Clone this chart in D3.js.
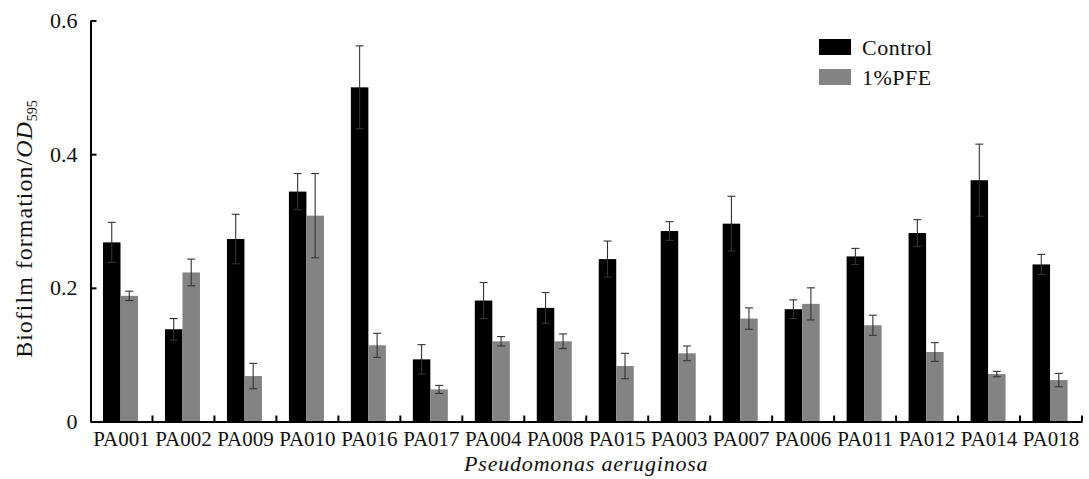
<!DOCTYPE html>
<html><head><meta charset="utf-8">
<script src="https://cdn.jsdelivr.net/npm/d3@7"></script>
<style>body{margin:0;background:#fff}svg{display:block}</style>
</head><body>
<svg id="c" width="1089" height="479"></svg>
<script>
const categories = ["PA001","PA002","PA009","PA010","PA016","PA017","PA004","PA008","PA015","PA003","PA007","PA006","PA011","PA012","PA014","PA018"];
const seriesNames = ["Control","1%PFE"];
const controlValues = [0.268,0.138,0.273,0.344,0.500,0.093,0.181,0.170,0.243,0.285,0.296,0.168,0.247,0.282,0.361,0.235];
const controlErrors = [0.030,0.016,0.037,0.027,0.062,0.022,0.027,0.023,0.027,0.014,0.041,0.014,0.012,0.020,0.054,0.015];
const pfeValues = [0.188,0.223,0.068,0.308,0.114,0.048,0.120,0.120,0.083,0.102,0.154,0.176,0.144,0.104,0.071,0.062];
const pfeErrors = [0.007,0.020,0.019,0.063,0.018,0.006,0.007,0.011,0.019,0.011,0.016,0.024,0.015,0.014,0.004,0.010];
const yTicks = [0,0.2,0.4,0.6];
const colors = ["#000000","#838383"];

const FONT = "Liberation Serif";
const svg = d3.select("#c");
const L = 90.5, R = 1082, T = 20.5, B = 421.5;
const x0 = d3.scaleBand().domain(categories).range([L, R]).padding(0);
const x1 = d3.scaleBand().domain(seriesNames).range([12.5, 47.5]).padding(0);
const y = d3.scaleLinear().domain([0,0.6]).range([B, T]);

const data = categories.map((c,i)=>({c, vals:[
  {s:seriesNames[0], v:controlValues[i], e:controlErrors[i]},
  {s:seriesNames[1], v:pfeValues[i], e:pfeErrors[i]}]}));

const g = svg.append("g");
const grp = g.selectAll("g.grp").data(data).join("g").attr("transform",d=>`translate(${x0(d.c)},0)`);
grp.selectAll("rect").data(d=>d.vals).join("rect")
  .attr("x",d=>x1(d.s)).attr("width",x1.bandwidth())
  .attr("y",d=>y(d.v)).attr("height",d=>y(0)-y(d.v))
  .attr("fill",(d,i)=>colors[i]);
const eb = grp.selectAll("g.eb").data(d=>d.vals).join("g").attr("class","eb");
const cx = d=>x1(d.s)+x1.bandwidth()/2;
eb.append("line").attr("x1",cx).attr("x2",cx).attr("y1",d=>y(d.v-d.e)).attr("y2",d=>y(d.v+d.e))
  .attr("stroke","#333").attr("stroke-width",1.1);
eb.append("line").attr("x1",d=>cx(d)-4).attr("x2",d=>cx(d)+4).attr("y1",d=>y(d.v+d.e)).attr("y2",d=>y(d.v+d.e))
  .attr("stroke","#333").attr("stroke-width",1.1);
eb.append("line").attr("x1",d=>cx(d)-4).attr("x2",d=>cx(d)+4).attr("y1",d=>y(d.v-d.e)).attr("y2",d=>y(d.v-d.e))
  .attr("stroke","#333").attr("stroke-width",1.1);

// y axis
const yAxis = d3.axisLeft(y).tickValues(yTicks).tickFormat(d=>d===0?"0":d3.format(".1f")(d)).tickSizeInner(-6).tickSizeOuter(0).tickPadding(13);
const ya = svg.append("g").attr("transform",`translate(${L},0)`).call(yAxis);
ya.select(".domain").attr("stroke","#000").attr("stroke-width",2);
ya.selectAll(".tick line").attr("stroke","#000").attr("stroke-width",2);
ya.selectAll(".tick text").attr("fill","#111").style("font-family",FONT).style("font-size","22px");

// x axis
const xAxis = d3.axisBottom(x0).tickSize(0).tickPadding(10);
const xa = svg.append("g").attr("transform",`translate(0,${B})`).call(xAxis);
xa.select(".domain").attr("stroke","#000").attr("stroke-width",2);
xa.selectAll(".tick text").attr("fill","#111").style("font-family",FONT).style("font-size","21px");
xa.selectAll("line.bt").data(categories).join("line").attr("class","bt")
  .attr("x1",d=>x0(d)+x0.bandwidth()).attr("x2",d=>x0(d)+x0.bandwidth())
  .attr("y1",0).attr("y2",-6).attr("stroke","#000").attr("stroke-width",2);

// axis titles
svg.append("text").attr("x",(L+R)/2).attr("y",471).attr("text-anchor","middle")
  .style("font-family",FONT).style("font-size","22px").style("letter-spacing","0.8px").style("font-style","italic").attr("fill","#111").text("Pseudomonas aeruginosa");
const yt = svg.append("text").attr("transform",`translate(32,229) rotate(-90)`).attr("text-anchor","middle")
  .style("font-family",FONT).style("font-size","24px").style("letter-spacing","1px").attr("fill","#111");
yt.append("tspan").text("Biofilm formation/");
yt.append("tspan").style("font-style","italic").text("OD");
yt.append("tspan").attr("dy",5).style("font-size","14px").style("letter-spacing","0px").text("595");

// legend
const lg = svg.append("g").selectAll("g").data(seriesNames).join("g")
  .attr("transform",(d,i)=>`translate(819,${39+i*30})`);
lg.append("rect").attr("width",32).attr("height",16).attr("fill",(d,i)=>colors[i]);
lg.append("text").attr("x",43).attr("y",16).style("font-family",FONT).style("font-size","22px").style("letter-spacing","0.5px").attr("fill","#111").text(d=>d);
</script></body></html>
